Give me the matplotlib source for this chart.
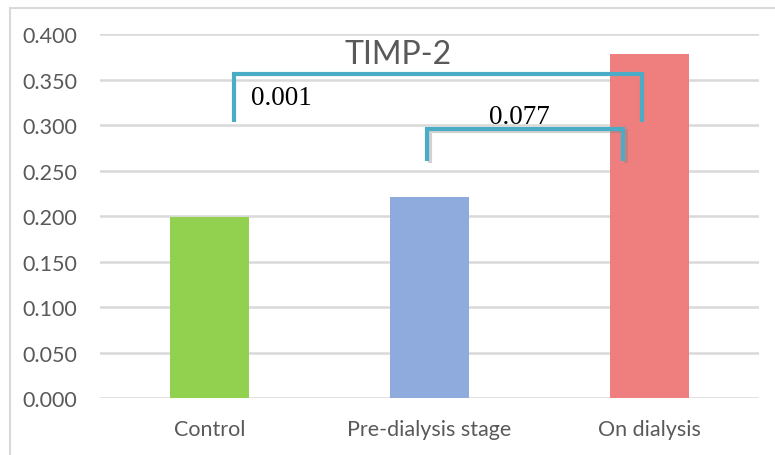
import matplotlib
matplotlib.use('agg')
import matplotlib.pyplot as plt
import matplotlib.patheffects as pe
from matplotlib.patches import Rectangle

# TIMP-2 means per group
groups = ['Control', 'Pre-dialysis stage', 'On dialysis']
timp2 = [0.199, 0.221, 0.378]
bar_colors = ['#92D050', '#8FAADC', '#EE7F7E']

# p-value brackets: (x left, x right, y top, y bottom)
p_labels = ['0.001', '0.077']
brackets = [(0.112, 1.969, 0.356, 0.303),
            (0.989, 1.880, 0.296, 0.261)]
label_pos = [(0.19, 0.330), (1.27, 0.309)]

yticks = [0.0, 0.05, 0.1, 0.15, 0.2, 0.25, 0.3, 0.35, 0.4]

grey_txt = '#595959'
grid_col = '#D9D9D9'
teal = '#4BACC6'

fig = plt.figure(figsize=(7.75, 4.56), dpi=100)
ax = fig.add_axes([0.1284, 0.125, 0.851, 0.7982])

# chart frame running off right and bottom edges
fig.patches.append(Rectangle((10 / 775, -0.05), 1.0, 1 - 9 / 456 + 0.05,
                             transform=fig.transFigure, fill=False,
                             edgecolor=grid_col, linewidth=1.5))

x = range(len(groups))
ax.bar(x, timp2, width=0.36, color=bar_colors, zorder=2)

ax.set_xlim(-0.5, 2.5)
ax.set_ylim(0, 0.4)
ax.set_yticks(yticks)
ax.set_yticklabels(['%.3f' % v for v in yticks])
ax.set_xticks(list(x))
ax.set_xticklabels(groups)
ax.yaxis.grid(True, color=grid_col, linewidth=1.8, zorder=0)
ax.set_axisbelow(True)
for s in ax.spines.values():
    s.set_visible(False)
ax.tick_params(axis='both', length=0, labelsize=15.5, labelcolor=grey_txt)
ax.tick_params(axis='y', pad=16)
ax.tick_params(axis='x', pad=15)
for lbl in ax.get_xticklabels() + ax.get_yticklabels():
    lbl.set_fontfamily('Lato')

ax.text(0.86, 0.378, 'TIMP-2', fontsize=23, color=grey_txt, family='Lato',
        ha='center', va='center', zorder=5)

for i, (xl, xr, yt, yb) in enumerate(brackets):
    effects = None
    if i == 1:
        effects = [pe.SimpleLineShadow(offset=(2, -2), shadow_color='grey', alpha=0.35),
                   pe.Normal()]
    ax.plot([xl, xl, xr, xr], [yb, yt, yt, yb], color=teal, linewidth=3.0,
            solid_joinstyle='miter', solid_capstyle='butt', zorder=4,
            path_effects=effects)
    lx, ly = label_pos[i]
    ax.text(lx, ly, p_labels[i], fontsize=19.5, family='Liberation Serif',
            color='black', ha='left', va='center', zorder=5)

fig.savefig('out.png', dpi=100)
